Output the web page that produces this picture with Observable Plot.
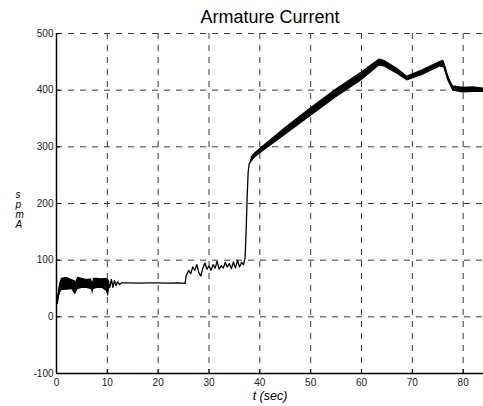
<!DOCTYPE html>
<html>
<head>
<meta charset="utf-8">
<script src="https://cdn.jsdelivr.net/npm/d3@7"></script>
<script src="https://cdn.jsdelivr.net/npm/@observablehq/plot@0.6"></script>
<style>
  html, body { margin: 0; padding: 0; background: #fff; }
  #chart svg { display: block; }
</style>
</head>
<body>
<div id="chart"></div>
<script>
// ---- data ----
const titleText = "Armature Current";
const xLabel = "t (sec)";
const yLabelLetters = ["s", "p", "m", "A"];
const xTicks = [0, 10, 20, 30, 40, 50, 60, 70, 80];
const yTicks = [-100, 0, 100, 200, 300, 400, 500];

// noisy band, start-up (0-10.5 s)
const bandAT  = [0.15, 0.4, 0.7, 1, 2, 3, 3.6, 3.8, 4.2, 5, 6, 6.9, 7.1, 7.3, 8, 9, 9.8, 10.2, 10.5];
const bandALo = [18, 30, 40, 46, 47, 48, 40, 40, 48, 50, 50, 48, 39, 48, 50, 50, 45, 35, 52];
const bandAHi = [30, 48, 62, 68, 70, 66, 64, 62, 70, 68, 66, 67, 60, 68, 68, 67, 68, 66, 62];

// noisy band, ramp and after (38.3-84 s)
const bandBT  = [38.3, 39, 40, 45, 50, 55, 60, 63.5, 64.5, 67, 69, 72, 75.5, 76.2, 77, 78, 80, 82, 84];
const bandBLo = [272, 280, 287, 320, 353, 386, 416, 442, 441, 428, 416, 426, 441, 439, 416, 398, 395, 396, 396];
const bandBHi = [282, 289, 297, 334, 369, 402, 432, 455, 453, 439, 425, 436, 451, 453, 426, 408, 405, 406, 404];

// thin trace (10.5-38.5 s)
const traceT = [10.5, 10.8, 11.1, 11.4, 11.7, 12, 12.4, 12.8, 14, 16, 18, 20, 22, 24, 25.3,
  25.5, 26, 26.4, 26.8, 27.2, 27.6, 28, 28.4, 28.8, 29.2, 29.6, 30, 30.4, 30.8, 31.2, 31.6,
  32, 32.4, 32.8, 33.2, 33.6, 34, 34.4, 34.8, 35.2, 35.6, 36, 36.4, 36.8, 37.1, 37.3, 37.5,
  37.7, 37.9, 38.3];
const traceV = [52, 66, 52, 64, 55, 62, 57, 60, 60, 59.5, 60, 60, 59.5, 60, 59,
  72, 82, 76, 88, 82, 92, 78, 72, 86, 95, 84, 90, 82, 92, 86, 98,
  84, 90, 86, 96, 88, 94, 85, 97, 86, 100, 88, 96, 92, 104, 150, 210,
  255, 270, 276];

// ---- build tables ----
const bandA = bandAT.map((t, i) => ({t, lo: bandALo[i], hi: bandAHi[i]}));
const bandB = bandBT.map((t, i) => ({t, lo: bandBLo[i], hi: bandBHi[i]}));
const trace = traceT.map((t, i) => ({t, v: traceV[i]}));
const gridX = xTicks.filter(d => d > 0);
const gridY = yTicks.filter(d => d > -100);

const chart = Plot.plot({
  width: 483,
  height: 406,
  marginLeft: 56,
  marginRight: 0,
  marginTop: 33,
  marginBottom: 33,
  style: {fontFamily: "'Liberation Sans', Arial, sans-serif", fontSize: "10px", color: "#000", background: "#fff"},
  x: {domain: [0, 84], label: null},
  y: {domain: [-100, 500], label: null},
  marks: [
    // dashed grid
    Plot.ruleX(gridX, {x: d => d, stroke: "#3a3a3a", strokeWidth: 1, strokeDasharray: "6,6"}),
    Plot.ruleY(gridY, {y: d => d, stroke: "#3a3a3a", strokeWidth: 1, strokeDasharray: "6,6"}),
    // data
    Plot.areaY(bandA, {x: "t", y1: "lo", y2: "hi", fill: "#000", curve: "linear", clip: true}),
    Plot.line(bandA, {x: "t", y: d => (d.lo + d.hi) / 2, stroke: "#000", strokeWidth: 1.5, clip: true}),
    Plot.line(trace, {x: "t", y: "v", stroke: "#000", strokeWidth: 1.3, clip: true}),
    Plot.areaY(bandB, {x: "t", y1: "lo", y2: "hi", fill: "#000", curve: "linear", clip: true}),
    Plot.line(bandB, {x: "t", y: d => (d.lo + d.hi) / 2, stroke: "#000", strokeWidth: 2, clip: true}),
    // inward ticks
    Plot.ruleX(xTicks, {x: d => d, y1: -100, y2: -93, stroke: "#000", strokeWidth: 1}),
    Plot.ruleY(yTicks, {y: d => d, x1: 0, x2: 0.8, stroke: "#000", strokeWidth: 1}),
    // axis lines
    Plot.ruleX([0], {stroke: "#000", strokeWidth: 1.5}),
    Plot.ruleY([-100], {stroke: "#000", strokeWidth: 1.5}),
    // tick labels
    Plot.axisX({ticks: xTicks, tickSize: 0, tickPadding: 5, tickFormat: d => String(d), fontSize: 10, fill: "#222", label: null}),
    Plot.axisY({ticks: yTicks, tickSize: 0, tickPadding: 3, tickFormat: d => String(d), fontSize: 10, fill: "#222", label: null}),
    // title and labels
    Plot.text([titleText], {frameAnchor: "top", dy: -16, fontSize: 18, fill: "#000", lineAnchor: "middle"}),
    Plot.text([xLabel], {frameAnchor: "bottom", dy: 22, fontSize: 12.5, fontStyle: "italic", fill: "#000", lineAnchor: "middle"}),
    Plot.text([yLabelLetters.join("\n")], {frameAnchor: "left", dx: -41, dy: 6, fontSize: 10, fontStyle: "italic", lineHeight: 1.0, fill: "#000", lineAnchor: "middle"})
  ]
});
document.getElementById("chart").appendChild(chart);
</script>
</body>
</html>
